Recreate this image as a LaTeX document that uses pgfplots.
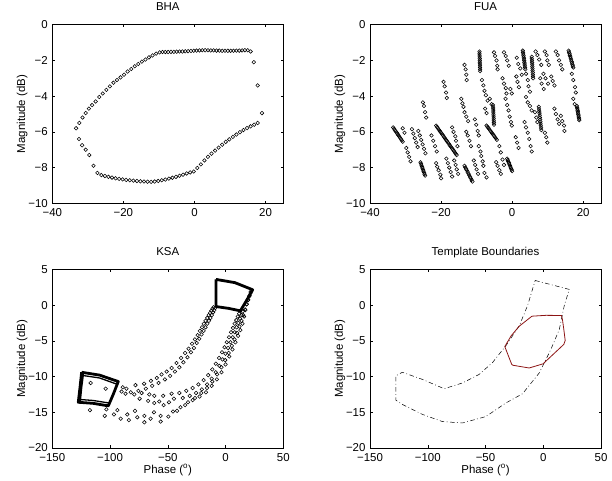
\documentclass[border=0pt]{standalone}
\usepackage{fontspec}
\setmainfont{Liberation Sans}
\usepackage{pgfplots}
\pgfplotsset{compat=1.18}
\definecolor{bnd}{RGB}{140,20,20}
\pgfplotsset{
  mstyle/.style={
    scale only axis, width=231bp, height=178.6bp,
    tick align=inside, major tick length=2.5bp,
    axis line style={line width=0.7pt},
    every tick/.style={black, line width=0.5pt},
    font=\fontsize{11.5}{13}\selectfont,
    ylabel style={at={(axis description cs:-0.13,0.5)}, anchor=center, rotate=0},
    xlabel style={at={(axis description cs:0.5,-0.123)}, anchor=center},
    title style={at={(axis description cs:0.5,1.047)}, anchor=base},
    xticklabel style={yshift=-1.5bp},
    yticklabel style={xshift=-1bp},
  },
  dots/.style={only marks, mark=o, mark size=1.8pt, mark options={line width=0.55pt, black}},
  toprow/.style={xmin=-40, xmax=25, ymin=-10, ymax=0,
    xtick={-40,-20,0,20}, xticklabels={−40,−20,0,20},
    ytick={-10,-8,-6,-4,-2,0}, yticklabels={−10,−8,−6,−4,−2,0}},
  botrow/.style={xmin=-150, xmax=50, ymin=-20, ymax=5,
    xtick={-150,-100,-50,0,50}, xticklabels={−150,−100,−50,0,50},
    ytick={-20,-15,-10,-5,0,5}, yticklabels={−20,−15,−10,−5,0,5}},
}
\begin{document}
\begin{tikzpicture}
\useasboundingbox (0,0) rectangle (612bp,481bp);
% ---------------- BHA
\begin{axis}[mstyle, toprow, at={(52.3bp,277.7bp)}, anchor=south west,
  title={BHA}, ylabel={Magnitude (dB)}]
\addplot[dots] coordinates {
(-33.3,-5.8)(-32.4,-5.5)(-31.5,-5.2)(-30.6,-4.95)(-29.7,-4.7)(-28.8,-4.5)(-27.8,-4.3)(-26.8,-4.05)(-25.8,-3.85)(-24.8,-3.65)(-23.8,-3.45)(-22.8,-3.25)(-21.8,-3.1)(-20.8,-2.95)(-19.8,-2.8)(-18.8,-2.62)(-17.8,-2.48)(-16.8,-2.33)(-15.8,-2.2)(-14.8,-2.07)(-13.8,-1.95)(-12.8,-1.83)(-11.8,-1.72)(-10.8,-1.62)(-9.8,-1.55)
(-9.0,-1.53)(-8.2,-1.53)(-7.4,-1.53)(-6.6,-1.52)(-5.8,-1.52)(-5.0,-1.51)(-4.2,-1.5)(-3.4,-1.5)(-2.6,-1.49)(-1.8,-1.48)(-1.0,-1.47)(-0.2,-1.46)(0.6,-1.45)(1.4,-1.44)(2.2,-1.43)(3.0,-1.43)(3.8,-1.43)(4.6,-1.44)(5.4,-1.44)(6.2,-1.45)(7.0,-1.45)(7.8,-1.46)(8.6,-1.46)(9.4,-1.46)(10.2,-1.46)(11.0,-1.46)(11.8,-1.45)(12.6,-1.45)(13.4,-1.44)(14.2,-1.43)(15.0,-1.43)(15.8,-1.5)
(16.7,-2.1)(17.8,-3.4)(19.0,-4.95)
(-32.5,-6.4)(-31.6,-6.75)(-30.6,-7.0)(-29.6,-7.3)(-28.4,-7.9)(-27.3,-8.3)(-26.2,-8.42)(-25.2,-8.47)(-24.2,-8.52)(-23.2,-8.56)(-22.2,-8.6)(-21.2,-8.63)(-20.2,-8.66)(-19.2,-8.69)(-18.2,-8.71)(-17.2,-8.73)(-16.2,-8.75)(-15.2,-8.77)(-14.2,-8.78)(-13.2,-8.79)(-12.2,-8.8)(-11.2,-8.78)(-10.2,-8.75)(-9.2,-8.71)(-8.2,-8.67)(-7.2,-8.62)(-6.2,-8.57)(-5.2,-8.52)(-4.2,-8.46)(-3.2,-8.4)(-2.2,-8.33)(-1.2,-8.27)(-0.2,-8.22)(0.8,-8.02)(1.8,-7.82)(2.8,-7.6)(3.8,-7.4)(4.8,-7.22)(5.8,-7.05)(6.8,-6.88)(7.8,-6.72)(8.8,-6.56)(9.8,-6.42)(10.8,-6.28)(11.8,-6.15)(12.8,-6.02)(13.8,-5.9)(14.8,-5.79)(15.8,-5.69)(16.8,-5.6)(17.8,-5.5)
};
\end{axis}
% ---------------- FUA
\begin{axis}[mstyle, toprow, at={(370bp,277.7bp)}, anchor=south west,
  title={FUA}, ylabel={Magnitude (dB)}]
\addplot[dots] coordinates {
(-33.5,-5.75)(-33.25,-5.82)(-33.0,-5.9)(-32.76,-5.97)(-32.5,-6.04)(-32.27,-6.11)(-32.03,-6.19)(-31.78,-6.26)(-31.54,-6.33)(-31.29,-6.4)(-31.05,-6.48)(-30.8,-6.55)
(-25.8,-7.7)(-25.66,-7.78)(-25.51,-7.87)(-25.37,-7.95)(-25.22,-8.03)(-25.08,-8.12)(-24.93,-8.2)(-24.79,-8.28)(-24.64,-8.37)(-24.5,-8.45)
(-21.4,-5.65)(-21.15,-5.72)(-20.9,-5.79)(-20.64,-5.87)(-20.39,-5.94)(-20.14,-6.01)(-19.89,-6.08)(-19.64,-6.15)(-19.38,-6.22)(-19.13,-6.3)(-18.88,-6.37)(-18.63,-6.44)(-18.37,-6.51)(-18.12,-6.58)(-17.87,-6.65)(-17.62,-6.73)(-17.37,-6.8)(-17.11,-6.87)(-16.86,-6.94)(-16.61,-7.01)(-16.36,-7.08)(-16.1,-7.16)(-15.85,-7.23)(-15.6,-7.3)
(-13.4,-7.9)(-13.18,-7.99)(-12.96,-8.08)(-12.74,-8.16)(-12.52,-8.25)(-12.3,-8.34)(-12.08,-8.43)(-11.86,-8.52)(-11.64,-8.6)(-11.42,-8.69)(-11.2,-8.78)
(-9.2,-1.5)(-9.18,-1.6)(-9.16,-1.7)(-9.15,-1.8)(-9.13,-1.9)(-9.11,-2.0)(-9.09,-2.1)(-9.07,-2.2)(-9.05,-2.3)(-9.04,-2.4)(-9.02,-2.5)(-9.0,-2.6)
(-7.2,-5.65)(-6.94,-5.72)(-6.67,-5.79)(-6.41,-5.86)(-6.14,-5.94)(-5.88,-6.01)(-5.62,-6.08)(-5.35,-6.15)(-5.09,-6.22)(-4.83,-6.3)(-4.56,-6.37)(-4.3,-6.45)
(-5.4,-4.5)(-5.37,-4.61)(-5.34,-4.72)(-5.31,-4.83)(-5.28,-4.94)(-5.25,-5.05)(-5.22,-5.16)(-5.19,-5.27)(-5.16,-5.38)(-5.13,-5.49)(-5.1,-5.6)
(-1.4,-7.5)(-1.24,-7.58)(-1.09,-7.66)(-0.93,-7.73)(-0.78,-7.81)(-0.62,-7.89)(-0.47,-7.97)(-0.31,-8.04)(-0.16,-8.12)(0,-8.2)
(3.0,-1.45)(3.06,-1.55)(3.13,-1.64)(3.19,-1.73)(3.25,-1.82)(3.32,-1.91)(3.38,-2.0)(3.44,-2.1)(3.51,-2.2)(3.57,-2.3)(3.64,-2.4)(3.7,-2.5)
(5.5,-1.8)(5.54,-1.91)(5.57,-2.02)(5.61,-2.13)(5.65,-2.24)(5.68,-2.35)(5.72,-2.45)(5.75,-2.56)(5.79,-2.67)(5.83,-2.78)(5.86,-2.89)(5.9,-3.0)
(7.5,-4.6)(7.56,-4.72)(7.63,-4.84)(7.69,-4.95)(7.75,-5.07)(7.82,-5.19)(7.88,-5.31)(7.95,-5.43)(8.01,-5.55)(8.07,-5.66)(8.14,-5.78)(8.2,-5.9)
(15.9,-1.45)(16.02,-1.54)(16.14,-1.62)(16.25,-1.71)(16.37,-1.8)(16.49,-1.88)(16.61,-1.97)(16.73,-2.06)(16.85,-2.14)(16.96,-2.23)(17.08,-2.31)(17.2,-2.4)
(18.2,-4.55)(18.27,-4.63)(18.34,-4.71)(18.41,-4.79)(18.48,-4.87)(18.55,-4.95)(18.62,-5.03)(18.69,-5.11)(18.76,-5.19)(18.83,-5.27)(18.9,-5.35)
(-5.1,-1.55)(-4.8,-1.75)(-4.4,-2.0)(-4.2,-2.3)(-4.1,-2.5)
(-2.3,-1.55)(-1.8,-1.75)(-1.4,-2.0)(-0.95,-2.3)
(1.3,-1.85)(1.7,-2.2)(2.3,-2.45)(2.7,-2.8)
(6.6,-1.5)(7.1,-1.7)(7.6,-1.95)(8.2,-2.25)
(9.2,-1.5)(9.7,-1.7)(9.9,-2.0)(10.3,-2.25)
(12.3,-1.5)(12.8,-1.7)(13.2,-2.0)(13.7,-2.25)(14.1,-2.5)
(-8.5,-3.1)(-8.1,-3.4)(-7.8,-3.7)(-7.4,-3.95)(-6.9,-4.25)
(-6.3,-4.15)(-5.8,-4.45)
(-2.7,-3.0)(-2.3,-3.3)(-1.8,-3.55)(-1.6,-3.85)
(-1.85,-4.15)(-1.4,-4.5)(-1.0,-4.8)(-0.7,-5.15)(-0.35,-5.45)(-0.1,-5.65)
(-0.5,-3.6)(-0.1,-3.85)
(3.9,-2.75)(4.4,-3.1)(4.6,-3.45)(5.0,-3.75)
(3.9,-4.05)(4.4,-4.35)(5.0,-4.55)(5.5,-4.8)
(3.5,-5.45)(3.9,-5.75)(4.4,-6.05)(4.8,-6.4)(5.2,-6.8)(5.5,-7.1)
(7.9,-3.0)(8.3,-3.3)(8.9,-3.6)
(8.8,-2.75)(9.4,-3.0)(10.1,-3.3)
(6.4,-4.9)(6.8,-5.2)(7.1,-5.45)
(9.2,-6.05)(9.6,-6.3)(9.9,-6.6)
(11.0,-2.9)(11.4,-3.15)(11.9,-3.4)
(11.9,-4.7)(12.3,-5.0)(12.8,-5.3)(13.2,-5.55)
(13.7,-5.1)(14.1,-5.4)(14.6,-5.65)(14.7,-5.95)
(16.8,-2.75)(17.2,-3.1)(17.7,-3.5)(17.9,-3.8)
(17.2,-4.15)(17.6,-4.45)
(-3.6,-6.8)(-3.2,-7.15)(-2.7,-7.55)(-2.3,-7.85)
(-4.5,-7.7)(-4.1,-7.9)(-3.6,-8.15)(-3.2,-8.35)
(-9.4,-6.8)(-8.9,-7.1)(-8.7,-7.35)(-8.3,-7.65)(-8.1,-7.9)
(-7.8,-8.3)(-7.2,-8.55)
(-10.5,-5.3)(-10.1,-5.6)(-9.7,-5.95)(-9.4,-6.2)
(-12.9,-6.0)(-12.5,-6.2)(-12.0,-6.5)(-11.6,-6.8)
(-16.3,-7.6)(-15.9,-7.85)(-15.6,-8.1)(-15.2,-8.35)
(-14.3,-4.15)(-14.0,-4.4)(-13.7,-4.6)(-13.4,-4.9)(-12.9,-5.15)(-12.4,-5.4)
(-13.4,-2.25)(-13.1,-2.5)(-12.9,-2.8)(-12.8,-3.1)
(-16.9,-5.75)(-16.5,-6.0)(-16.0,-6.25)(-15.8,-6.5)(-15.4,-6.8)
(-19.3,-3.2)(-19.0,-3.45)(-18.6,-3.8)(-18.4,-4.1)
(-21.4,-7.75)(-21.1,-7.95)(-20.7,-8.15)(-20.2,-8.4)(-20.0,-8.6)
(-22.7,-6.2)(-22.2,-6.5)(-21.7,-6.8)(-21.2,-7.1)
(-25.1,-4.35)(-24.8,-4.55)(-24.5,-4.9)(-24.2,-5.2)
(-26.4,-5.95)(-26.0,-6.2)(-25.6,-6.45)(-25.2,-6.7)(-24.8,-6.95)(-24.4,-7.2)
(-28.2,-5.85)(-27.8,-6.1)(-27.4,-6.35)(-27.0,-6.6)(-26.6,-6.85)
(-29.8,-6.9)(-29.4,-7.15)(-29.0,-7.4)(-28.6,-7.65)
(-30.8,-5.8)(-30.3,-6.05)
(-18.5,-7.5)(-18.1,-7.75)(-17.7,-8.0)(-17.3,-8.25)(-16.9,-8.5)
(-10.8,-7.6)(-10.4,-7.85)(-10.0,-8.1)(-9.6,-8.35)
(-7.6,-4.7)(-7.2,-4.95)
(1.2,-2.9)(1.5,-3.2)(1.9,-3.5)
(1.0,-6.3)(1.4,-6.6)(1.8,-6.9)
};
\end{axis}
% ---------------- KSA
\begin{axis}[mstyle, botrow, at={(52.3bp,33bp)}, anchor=south west,
  title={KSA}, ylabel={Magnitude (dB)}, xlabel={Phase (\textsuperscript{o})}]
\addplot[black, line width=2.8pt, line join=round] coordinates {
(-124.6,-9.4)(-109,-9.8)(-92.9,-10.7)(-97,-12.4)(-101.5,-14.1)(-114.5,-13.75)(-127.5,-13.6)(-126,-11.5)(-124.6,-9.4)};
\addplot[black, line width=1.3pt] coordinates {(-123.6,-9.85)(-109,-10.2)(-94.4,-11.05)};
\addplot[black, line width=1.3pt] coordinates {(-126.8,-13.2)(-114.5,-13.35)(-101,-13.7)};
\addplot[black, line width=2.2pt] coordinates {(-123.4,-9.6)(-124.9,-11.5)(-126.1,-13.4)};
\addplot[black, line width=2.8pt, line join=round] coordinates {
(-8.3,3.6)(8,3.15)(23.5,2.15)(18,0.6)(12.8,-0.8)(2.5,-0.45)(-8.3,-0.2)(-8.3,3.6)};
\addplot[dots] coordinates {
(-116.8,-10.9)(-103.8,-11.7)
(-89,-11.5)(-85.8,-11.7)(-78,-11.2)(-70.5,-11.0)(-64.6,-10.6)(-59.5,-10.2)(-55.4,-9.7)(-51,-9.3)(-46.7,-8.8)(-42.5,-8.1)(-38.5,-7.4)(-35,-6.7)(-32,-6.1)(-29,-5.4)(-26.5,-4.8)(-24.2,-4.2)(-22.2,-3.6)(-20.4,-3.1)(-18.8,-2.6)(-17.3,-2.2)(-15.9,-1.8)(-14.6,-1.4)(-13.4,-1.1)(-12.3,-0.8)(-11.3,-0.5)(-10.4,-0.3)
(-90,-12.1)(-82,-12.2)(-75.5,-12.0)(-69,-11.7)(-63.5,-11.3)(-58,-10.9)(-52.5,-10.4)(-48,-9.9)(-43.8,-9.3)(-40,-8.7)(-36.5,-8.0)(-33,-7.3)(-30,-6.6)(-27.4,-6.0)(-25,-5.3)(-22.8,-4.7)(-20.8,-4.1)(-19,-3.6)(-17.3,-3.1)(-15.8,-2.6)(-14.4,-2.2)(-13.1,-1.8)(-11.9,-1.4)(-10.8,-1.0)(-9.8,-0.7)(-8.9,-0.4)
(-86.6,-12.4)(-79,-12.5)(-72.7,-12.3)(-66,-12.5)(-61.7,-12.7)(-54,-12.7)(-46.7,-12.4)(-40,-12.3)(-34,-12.0)(-28.5,-11.6)(-23.5,-11.1)(-19,-10.5)(-15,-9.8)(-11.5,-9.0)(-8.4,-8.2)(-5.6,-7.4)(-3.1,-6.6)(-0.9,-5.9)(1.1,-5.2)(3,-4.5)(4.8,-3.8)(6.4,-3.2)(7.9,-2.6)(9.3,-2.1)(10.6,-1.6)(11.8,-1.2)(12.9,-0.8)
(-74.4,-13.1)(-67,-13.4)(-61.7,-13.7)(-57.4,-13.5)(-53.6,-14.0)(-49,-13.6)(-44.7,-13.1)(-37,-13.0)(-31,-12.7)(-25.5,-12.3)(-20.5,-11.8)(-16,-11.1)(-12,-10.3)(-8.5,-9.4)(-5.4,-8.5)(-2.6,-7.6)(-0.1,-6.8)(2.2,-6.0)(4.3,-5.2)(6.2,-4.5)(8,-3.8)(9.6,-3.1)(11.1,-2.5)(12.5,-1.9)(13.8,-1.4)(14.9,-0.9)
(-117.4,-14.7)(-103.2,-14.6)(-93.7,-14.7)(-85.1,-15.3)(-78.4,-14.8)(-70.3,-15.5)(-62,-15.0)(-56.2,-15.5)(-45.5,-14.9)(-39,-14.3)(-32.5,-13.6)(-26.5,-13.0)(-21,-12.3)(-16,-11.6)(-11.5,-10.7)(-7.3,-9.7)(-3.6,-8.7)(-0.3,-7.7)(2.7,-6.7)(5.4,-5.7)(7.8,-4.8)(10,-3.9)(12,-3.0)(13.8,-2.2)(15.4,-1.4)(16.9,-0.6)(18.2,0.1)(19.4,0.7)(20.5,1.2)(21.6,1.7)
(-104.6,-15.5)(-96.6,-15.3)(-90.8,-15.9)(-83.7,-16.1)(-76.4,-15.7)(-70.3,-16.4)(-64.9,-15.9)(-56.2,-16.3)(-49.5,-15.6)(-42,-14.8)(-35,-14.0)(-28.5,-13.3)(-22.5,-12.8)(-17,-12.2)(-12,-11.3)(-7.5,-10.4)(-3.5,-9.4)(0,-8.3)(3.2,-7.2)(6,-6.2)(8.5,-5.2)(10.8,-4.3)(12.8,-3.5)(14.6,-2.6)(16.0,-1.6)(17.2,-0.7)(18.4,0.15)(19.6,0.75)(20.8,1.35)(21.9,1.9)
};
\end{axis}
% ---------------- Template Boundaries
\begin{axis}[mstyle, botrow, at={(370bp,33bp)}, anchor=south west,
  title={Template Boundaries}, ylabel={Magnitude (dB)}, xlabel={Phase (\textsuperscript{o})}]
\addplot[black, line width=0.5pt, dash pattern=on 4.5bp off 2.5bp on 0.8bp off 2.5bp] coordinates {
(-7,3.45)(22.5,2.2)(18.2,-0.07)(13.9,-3.4)(6.6,-6.2)(-3.5,-9.5)(-17.9,-12.4)(-32.4,-13.7)(-49.7,-15.6)(-70,-16.5)(-87.3,-16.3)(-104.6,-15.3)(-122,-13.9)(-127.7,-13.3)(-127.7,-9.9)(-122,-9.4)(-104.6,-10.4)(-85.8,-11.7)(-70,-10.9)(-55.5,-9.7)(-44,-8.05)(-32.4,-5.7)(-20.8,-2.9)(-13.6,-0.07)(-7,3.45)};
\addplot[bnd, line width=0.8pt] coordinates {
(-33.3,-5.8)(-27.3,-8.3)(-26.2,-8.42)(-12.2,-8.8)(-0.2,-8.22)(17.8,-5.5)(19.0,-4.95)(17.8,-3.4)(16.7,-2.1)(15.8,-1.45)(2.2,-1.43)(-9.8,-1.55)(-20.8,-2.95)(-27.8,-4.3)(-33.3,-5.8)};
\end{axis}
\end{tikzpicture}
\end{document}
